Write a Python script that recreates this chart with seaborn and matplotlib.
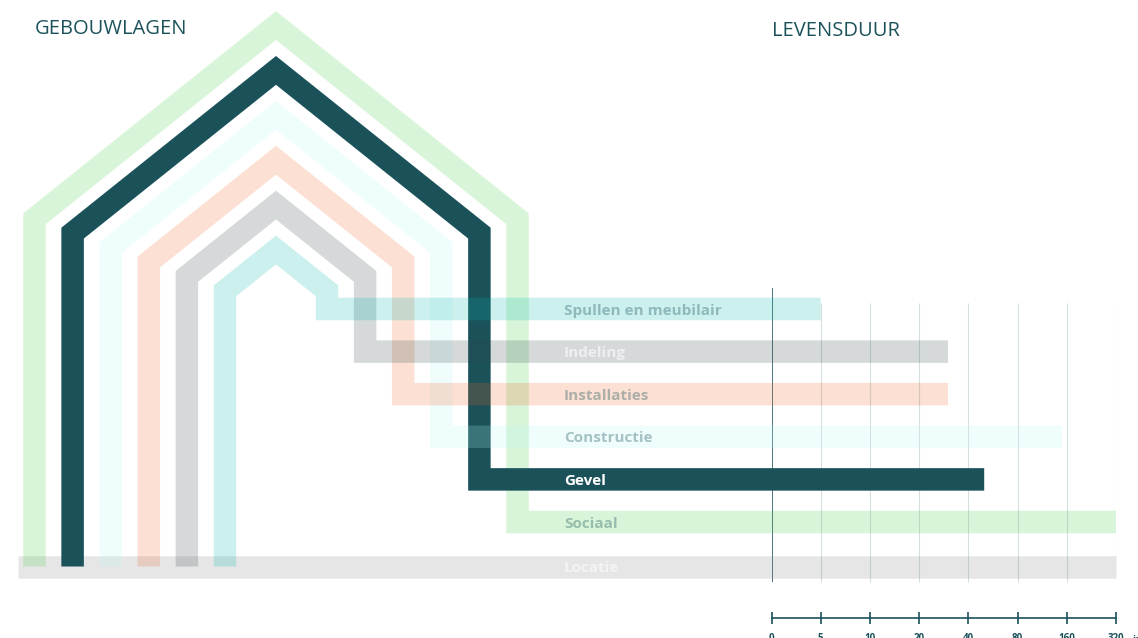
import matplotlib
matplotlib.use("Agg")
import matplotlib.pyplot as plt
from matplotlib.ticker import NullLocator
import seaborn as sns

# ---------------- data ----------------
layers = ["Sociaal", "Gevel", "Constructie", "Installaties", "Indeling", "Spullen en meubilair"]
lifespans = [320, 50, 150, 30, 30, 5]          # years
base_layer = "Locatie"
base_lifespan = 320
tick_values = [2.5, 5, 10, 20, 40, 80, 160, 320]
tick_labels = ["0", "5", "10", "20", "40", "80", "160", "320"]
title_left = "GEBOUWLAGEN"
title_right = "LEVENSDUUR"
unit_label = "jaar"

# ---------------- style ----------------
DARK = "#1b525a"
layer_colors = ["#41cd41", DARK, "#b8f8f8", "#eb6423", "#2d4146", "#00b5ad"]
layer_alpha = [0.2, 1.0, 0.2, 0.2, 0.2, 0.2]
layer_z = [2, 3, 4, 5, 6, 7]
label_colors = [DARK, "white", DARK, DARK, "white", DARK]
label_alpha = [0.35, 1.0, 0.35, 0.35, 0.6, 0.35]
base_color = "#828282"

sns.set_theme(style="white")
plt.rcParams["font.family"] = ["Open Sans", "DejaVu Sans"]

W, H = 1138, 638
fig = plt.figure(figsize=(W / 100, H / 100), dpi=100)

# lifespan axis (log2 scale), pixel-aligned vertically
AX_L, AX_R, AX_Y, AX_TOP = 771.5, 1116.0, 617.5, 288.0
ax_life = fig.add_axes([AX_L / W, (H - AX_Y) / H, (AX_R - AX_L) / W, (AX_Y - AX_TOP) / H], zorder=0)
ax_life.set_xscale("log", base=2)
ax_life.set_xlim(tick_values[0], tick_values[-1])
ax_life.set_ylim(AX_Y, AX_TOP)
ax_life.patch.set_alpha(0)
for s in ["top", "left", "right"]:
    ax_life.spines[s].set_visible(False)
ax_life.spines["bottom"].set_color(DARK)
ax_life.spines["bottom"].set_linewidth(1.2)
ax_life.set_xticks(tick_values)
ax_life.set_xticklabels(tick_labels)
ax_life.xaxis.set_minor_locator(NullLocator())
ax_life.set_yticks([])
ax_life.tick_params(axis="x", direction="inout", length=8, width=1.2, color=DARK,
                    labelcolor=DARK, labelsize=7, pad=7, bottom=True)
for lbl in ax_life.get_xticklabels():
    lbl.set_fontweight("bold")
ax_life.vlines(tick_values[1:], 303, 582, color="#d6dfdf", lw=0.8)
ax_life.vlines(tick_values[0], 288, 582, color=DARK, lw=1.1)

# layout axes in pixel coordinates
ax = fig.add_axes([0, 0, 1, 1], zorder=1)
ax.set_xlim(0, W)
ax.set_ylim(H, 0)
ax.axis("off")
ax.patch.set_alpha(0)


def to_layout_x(v):
    disp = ax_life.transData.transform((v, 400))
    return ax.transData.inverted().transform(disp)[0]


APEX_X = 276.0
LEG_X0, LEG_DX = 34.5, 38.1
APEX_Y0, APEX_DY = 25.5, 44.9
BAR_Y0, BAR_DY = 522.0, 42.6
LEG_BOTTOM = 566.5
SLOPE = 0.8
LW = 16.2
LABEL_X = 564

# base layer
ax.plot([18, to_layout_x(base_lifespan)], [LEG_BOTTOM, LEG_BOTTOM], color=base_color,
        alpha=0.2, lw=LW, solid_capstyle="butt", zorder=1)
ax.text(LABEL_X, LEG_BOTTOM + 5.6, base_layer, fontsize=11, fontweight="bold",
        color="white", alpha=0.55, va="baseline", ha="left", zorder=10)

for i, (name, life) in enumerate(zip(layers, lifespans)):
    lx = LEG_X0 + LEG_DX * i
    rx = 2 * APEX_X - lx
    ay = APEX_Y0 + APEX_DY * i
    cy = ay + SLOPE * (APEX_X - lx)
    by = BAR_Y0 - BAR_DY * i
    ex = to_layout_x(life)
    xs = [lx, lx, APEX_X, rx, rx, ex]
    ys = [LEG_BOTTOM, cy, ay, cy, by, by]
    ax.plot(xs, ys, color=layer_colors[i], alpha=layer_alpha[i], lw=LW,
            solid_joinstyle="miter", solid_capstyle="butt", zorder=layer_z[i])
    ax.text(LABEL_X, by + 5.6, name, fontsize=11, fontweight="bold",
            color=label_colors[i], alpha=label_alpha[i], va="baseline", ha="left", zorder=10)

ax.text(35, 34, title_left, fontsize=14.5, color=DARK, va="baseline", ha="left")
ax.text(772, 35.5, title_right, fontsize=14.5, color=DARK, va="baseline", ha="left")
ax.text(1133, 643, unit_label, fontsize=7, fontweight="bold", color=DARK, va="baseline", ha="left")

fig.savefig("out.png", dpi=100)
